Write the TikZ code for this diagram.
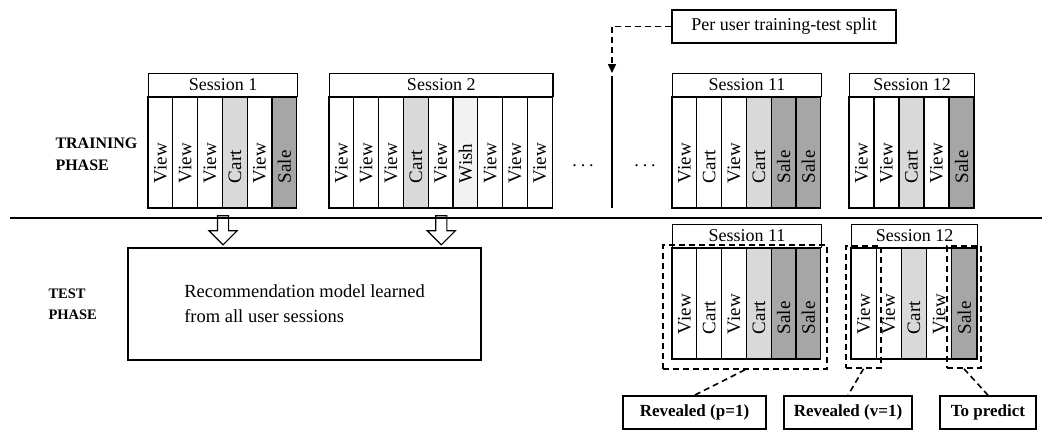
\documentclass[tikz,border=0pt]{standalone}
\usepackage{fontspec}
\setmainfont{Liberation Serif}
\usepackage{xcolor}
\usetikzlibrary{arrows.meta,positioning,shapes.arrows}
\definecolor{cartgray}{HTML}{D9D9D9}
\definecolor{wishgray}{HTML}{F2F2F2}
\definecolor{salegray}{HTML}{A6A6A6}
\newcommand{\colfont}{\fontsize{19bp}{22bp}\selectfont}
\newcommand{\txtfont}{\fontsize{18bp}{25bp}\selectfont}
\newcommand{\lblfont}{\fontsize{17bp}{20bp}\selectfont}

\begin{document}
\begin{tikzpicture}[
      x=1bp, y=-1bp,
      col/.style={draw, line width=1.3bp, rotate=90, minimum width=111bp, minimum height=24.8bp,
        text width=61bp, inner xsep=25bp, inner ysep=0pt, align=left, font=\colfont},
      head/.style={draw, line width=1.3bp, minimum height=23bp, inner sep=0pt, anchor=south west, font=\txtfont},
      phase/.style={anchor=west, align=left, font=\bfseries\fontsize{16bp}{22bp}\selectfont},
      dsh/.style={line width=1.6bp, dash pattern=on 6bp off 4bp},
      lbl/.style={draw, line width=1.5bp, minimum height=33bp, inner sep=0pt, font=\bfseries\lblfont},
      hollow/.style={single arrow, draw, line width=1.1bp, rotate=-90, minimum height=29bp,
        single arrow head extend=8.5bp, inner sep=5bp}
    ]
      \useasboundingbox (0,0) rectangle (1042,430);

      % training phase
      \node[phase] (train) at (52,154) {TRAINING\\PHASE};

      \node[head, minimum width=6*24.8bp] (s1) at (148,97) {Session 1};
      \foreach \lab/\fc [count=\i] in {View/white, View/white, View/white, Cart/cartgray, View/white, Sale/salegray}
        \node[col, fill=\fc] (s1-\i) at (148+\i*24.8-12.4,152.5) {\lab};

      \node[head, minimum width=9*24.8bp] (s2) at (329,97) {Session 2};
      \foreach \lab/\fc [count=\i] in {View/white, View/white, View/white, Cart/cartgray, View/white,
          Wish/wishgray, View/white, View/white, View/white}
        \node[col, fill=\fc] (s2-\i) at (329+\i*24.8-12.4,152.5) {\lab};

      \node[font=\txtfont] (dotsa) at (583,166) {.\hspace{4bp}.\hspace{4bp}.};
      \node[font=\txtfont] (dotsb) at (645,166) {.\hspace{4bp}.\hspace{4bp}.};

      \node[head, minimum width=6*24.8bp] (s11) at (672,97) {Session 11};
      \foreach \lab/\fc [count=\i] in {View/white, Cart/white, View/white, Cart/cartgray, Sale/salegray, Sale/salegray}
        \node[col, fill=\fc] (s11-\i) at (672+\i*24.8-12.4,152.5) {\lab};

      \node[head, minimum width=5*25bp] (s12) at (849,97) {Session 12};
      \foreach \lab/\fc [count=\i] in {View/white, View/white, Cart/cartgray, View/white, Sale/salegray}
        \node[col, fill=\fc, minimum height=25bp] (s12-\i) at (849+\i*25-12.5,152.5) {\lab};

      % split
      \node[draw, line width=1.4bp, minimum width=224bp, minimum height=33bp, inner sep=0pt, font=\txtfont]
        (split) at (784,26.5) {Per user training-test split};
      \coordinate (splittop) at (612,73);
      \coordinate (splitbot) at (612,208);
      \draw[line width=2bp] (612,76) -- (splitbot);
      \draw[dsh, -{Triangle[length=9bp,width=8bp]}] (split.west) -| (splittop);

      \draw[line width=1.3bp] (10,218) -- (1042,218);

      % test phase
      \node[phase, font=\bfseries\fontsize{14.5bp}{21bp}\selectfont] (test) at (45,304) {TEST\\PHASE};

      \node[hollow] (arra) at (s1 |- 0,227.5) {};
      \node[hollow] (arrb) at (s2 |- 0,227.5) {};

      \node[draw, line width=1.4bp, minimum width=353bp, minimum height=112bp, align=left,
        font=\fontsize{18.5bp}{25bp}\selectfont] (model) at (304.5,304)
        {Recommendation model learned\\from all user sessions};

      \node[head, minimum width=6*24.8bp] (t11) at (672,248) {Session 11};
      \foreach \lab/\fc [count=\i] in {View/white, Cart/white, View/white, Cart/cartgray, Sale/salegray, Sale/salegray}
        \node[col, fill=\fc] (t11-\i) at (672+\i*24.8-12.4,303.5) {\lab};

      \node[head, minimum width=5*25.2bp] (t12) at (851,248) {Session 12};
      \foreach \lab/\fc [count=\i] in {View/white, View/white, Cart/cartgray, View/white, Sale/salegray}
        \node[col, fill=\fc, minimum height=25.2bp] (t12-\i) at (851+\i*25.2-12.6,303.5) {\lab};

      \node[draw, dsh, minimum width=164bp, minimum height=124bp, inner sep=0pt] (rev1) at (745,307) {};
      \node[draw, dsh, minimum width=35bp, minimum height=122bp, inner sep=0pt] (rev2) at (863.5,307) {};
      \node[draw, dsh, minimum width=34bp, minimum height=122bp, inner sep=0pt] (pred) at (964,307) {};

      \node[lbl, minimum width=143bp] (lab1) at (694.5,412.5) {Revealed (p=1)};
      \node[lbl, minimum width=128bp] (lab2) at (848,412.5) {Revealed (v=1)};
      \node[lbl, minimum width=96bp] (lab3) at (988,412.5) {To predict};

      \draw[dsh] (rev1.south) -- (lab1.north);
      \draw[dsh] (rev2.south) -- (lab2.north);
      \draw[dsh] (pred.south) -- (lab3.north);
    \end{tikzpicture}
\end{document}
